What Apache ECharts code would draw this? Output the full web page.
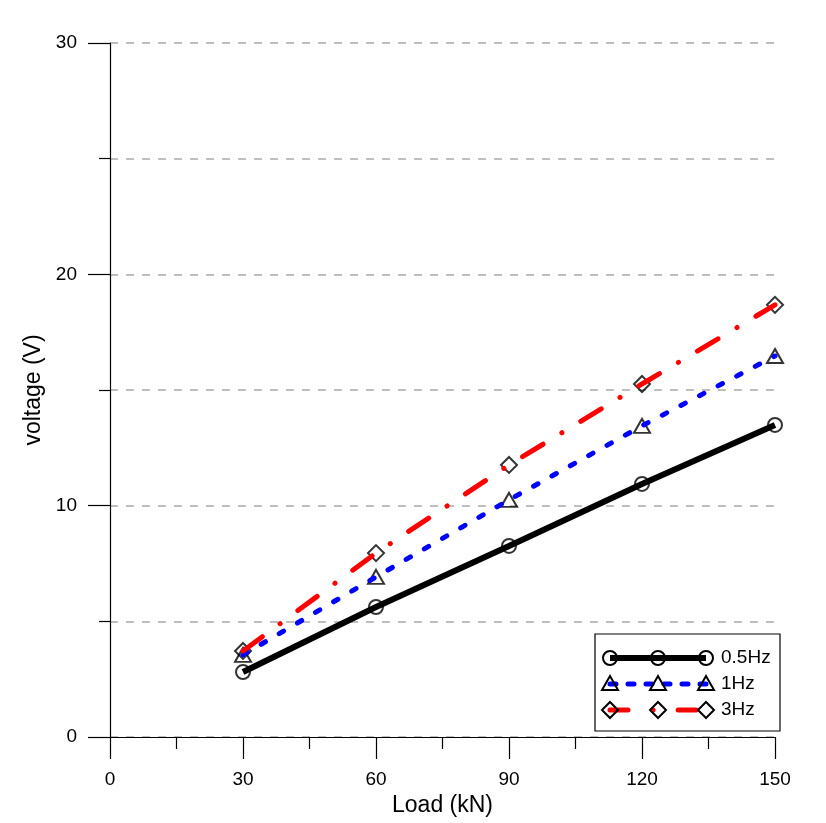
<!DOCTYPE html>
<html>
<head>
<meta charset="utf-8">
<script src="https://cdn.jsdelivr.net/npm/echarts@6/dist/echarts.min.js"></script>
<style>html,body{margin:0;padding:0;background:#fff}#c{width:826px;height:823px}</style>
</head>
<body>
<div id="c"></div>
<script>
const loads = [30, 60, 90, 120, 150];
const v05Hz = [2.81, 5.62, 8.26, 10.94, 13.49];
const v1Hz = [3.55, 6.92, 10.25, 13.45, 16.47];
const v3Hz = [3.72, 7.95, 11.76, 15.26, 18.68];
const seriesNames = ['0.5Hz', '1Hz', '3Hz'];
const xTicks = [0, 30, 60, 90, 120, 150];
const yTicks = [0, 10, 20, 30];

const FONT = 'Liberation Sans, Arial, sans-serif';
const pairs = arr => loads.map((x, i) => [x, arr[i]]);

const chart = echarts.init(document.getElementById('c'));

const dashBlue = [5, 16];
const dashRed = [24, 22, 0.1, 22];

const lg = {x0: 595, y0: 634, w: 185, h: 97};
const rows = [658, 684, 710];
const mx = [610, 658, 706];

function legendMarker(kind, cx, cy) {
  const st = {fill: 'rgba(0,0,0,0)', stroke: '#000', lineWidth: 2};
  if (kind === 'circle') return {type: 'circle', shape: {cx, cy, r: 7}, style: st, z: 20};
  if (kind === 'tri') return {type: 'polygon', shape: {points: [[cx, cy - 8], [cx + 8, cy + 6], [cx - 8, cy + 6]]}, style: st, z: 20};
  return {type: 'polygon', shape: {points: [[cx, cy - 8], [cx + 8, cy], [cx, cy + 8], [cx - 8, cy]]}, style: st, z: 20};
}

const graphics = [
  {type: 'rect', shape: {x: lg.x0, y: lg.y0, width: lg.w, height: lg.h}, style: {fill: '#fff', stroke: '#000', lineWidth: 1.2}, z: 10},
  {type: 'line', shape: {x1: mx[0], y1: rows[0], x2: mx[2], y2: rows[0]}, style: {stroke: '#000', lineWidth: 6}, z: 19},
  {type: 'line', shape: {x1: mx[0], y1: rows[1], x2: mx[2], y2: rows[1]}, style: {stroke: '#0000ff', lineWidth: 5, lineDash: [6, 12], lineCap: 'round'}, z: 19},
  {type: 'line', shape: {x1: mx[0], y1: rows[2], x2: mx[2], y2: rows[2]}, style: {stroke: '#ff0000', lineWidth: 5, lineDash: [18, 25, 0.1, 25], lineCap: 'round'}, z: 19}
];
['circle', 'tri', 'dia'].forEach((k, r) => mx.forEach(x => graphics.push(legendMarker(k, x, rows[r]))));
seriesNames.forEach((n, r) => graphics.push({type: 'text', x: 721, y: rows[r], style: {text: n, font: '19px ' + FONT, fill: '#000', textVerticalAlign: 'middle'}, z: 20}));

const markerStyle = {color: 'rgba(0,0,0,0)', borderColor: '#000', borderWidth: 2};

chart.setOption({
  animation: false,
  backgroundColor: '#fff',
  grid: {left: 110, right: 51, top: 43, bottom: 86},
  xAxis: {
    type: 'value', min: 0, max: 150, interval: 30,
    name: 'Load (kN)', nameLocation: 'middle', nameGap: 52,
    nameTextStyle: {fontSize: 23, fontFamily: FONT, color: '#000'},
    axisLine: {show: true, onZero: false, lineStyle: {color: '#000', width: 1.2}},
    axisTick: {show: true, inside: false, length: 22, lineStyle: {color: '#000', width: 1.2}},
    minorTick: {show: true, splitNumber: 2, length: 12, lineStyle: {color: '#000', width: 1.2}},
    axisLabel: {margin: 33, fontSize: 19, fontFamily: FONT, color: '#000',
      formatter: v => xTicks.includes(v) ? String(v) : ''},
    splitLine: {show: false}
  },
  yAxis: {
    type: 'value', min: 0, max: 30, interval: 10,
    name: 'voltage (V)', nameLocation: 'middle', nameGap: 56,
    nameTextStyle: {fontSize: 23, fontFamily: FONT, color: '#000'},
    axisLine: {show: true, onZero: false, lineStyle: {color: '#000', width: 1.2}},
    axisTick: {show: true, inside: false, length: 22, lineStyle: {color: '#000', width: 1.2}},
    minorTick: {show: true, splitNumber: 2, length: 11, lineStyle: {color: '#000', width: 1.2}},
    axisLabel: {margin: 33, fontSize: 19, fontFamily: FONT, color: '#000',
      formatter: v => yTicks.includes(v) ? String(v) : ''},
    splitLine: {show: true, lineStyle: {color: '#aaaaaa', width: 1.5, type: [8, 8]}},
    minorSplitLine: {show: true, lineStyle: {color: '#aaaaaa', width: 1.5, type: [8, 8]}}
  },
  series: [
    {name: '0.5Hz', type: 'line', data: pairs(v05Hz), showSymbol: false, z: 5,
      lineStyle: {color: '#000', width: 6}},
    {name: '1Hz', type: 'line', data: pairs(v1Hz), showSymbol: false, z: 5,
      lineStyle: {color: '#0000ff', width: 5, type: dashBlue, cap: 'round'}},
    {name: '3Hz', type: 'line', data: pairs(v3Hz), showSymbol: false, z: 5,
      lineStyle: {color: '#ff0000', width: 5, type: dashRed, cap: 'round'}},
    {name: '0.5Hz m', type: 'scatter', data: pairs(v05Hz), symbol: 'circle', symbolSize: 14, z: 4, itemStyle: markerStyle},
    {name: '1Hz m', type: 'scatter', data: pairs(v1Hz), symbol: 'triangle', symbolSize: [16, 14], z: 4, itemStyle: markerStyle},
    {name: '3Hz m', type: 'scatter', data: pairs(v3Hz), symbol: 'diamond', symbolSize: [16, 16], z: 4, itemStyle: markerStyle}
  ],
  graphic: graphics
});
</script>
</body>
</html>
